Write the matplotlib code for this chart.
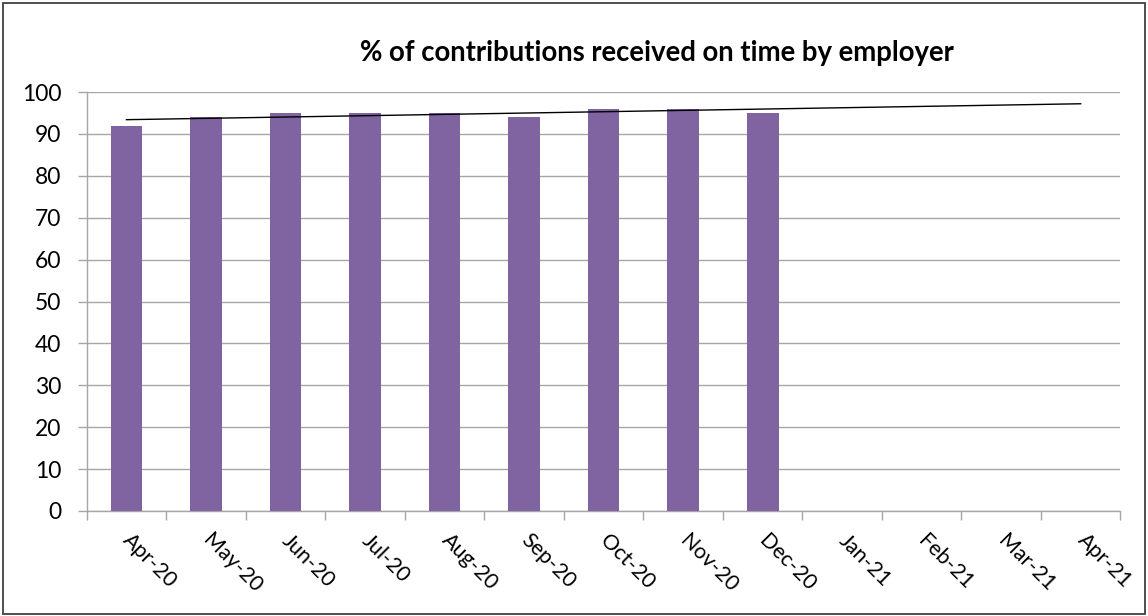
import numpy as np
import matplotlib
matplotlib.use("Agg")
import matplotlib.pyplot as plt
from matplotlib.patches import Rectangle

months = ["Apr-20", "May-20", "Jun-20", "Jul-20", "Aug-20", "Sep-20", "Oct-20",
          "Nov-20", "Dec-20", "Jan-21", "Feb-21", "Mar-21", "Apr-21"]
values = [92, 94, 95, 95, 95, 94, 96, 96, 95]
yticks = [0, 10, 20, 30, 40, 50, 60, 70, 80, 90, 100]
title = "% of contributions received on time by employer"

plt.rcParams['font.family'] = ['Lato', 'DejaVu Sans']

fig = plt.figure(figsize=(11.48, 6.16), dpi=100)
fig.patches.append(Rectangle((0.003, 0.004), 0.994, 0.991, transform=fig.transFigure,
                             fill=False, edgecolor='#404040', linewidth=1.3))
ax = fig.add_axes([0.0755, 0.1705, 0.9005, 0.6801])

x = np.arange(len(values))
ax.bar(x, values, width=0.4, color='#8064A2', zorder=3)

# linear trendline extended to the last category
coef = np.polyfit(x, values, 1)
xt = np.array([0, len(months) - 1])
ax.plot(xt, np.polyval(coef, xt), color='black', linewidth=1.0, zorder=4)

ax.set_xlim(-0.5, len(months) - 0.5)
ax.set_ylim(0, 100)
ax.set_yticks(yticks)
ax.set_yticklabels([str(v) for v in yticks], fontsize=16.5)
ax.yaxis.grid(True, color='#a6a6a6', linewidth=1.0, zorder=0)
ax.tick_params(axis='y', length=6.3, width=1, color='#a6a6a6', pad=12)

ax.set_xticks(np.arange(len(months)))
ax.set_xticklabels(months, fontsize=15.4, rotation=-45, rotation_mode='anchor',
                   ha='left', va='center')
ax.tick_params(axis='x', length=0, pad=19)
ax.set_xticks(np.arange(len(months) + 1) - 0.5, minor=True)
ax.tick_params(axis='x', which='minor', length=6.3, width=1, color='#a6a6a6')

for s in ['top', 'right']:
    ax.spines[s].set_visible(False)
for s in ['left', 'bottom']:
    ax.spines[s].set_color('#a6a6a6')
    ax.spines[s].set_linewidth(1.0)

fig.text(0.5723, 0.914, title, fontsize=19.8, fontweight='bold', ha='center', va='center')

fig.savefig("out.png", dpi=100)
